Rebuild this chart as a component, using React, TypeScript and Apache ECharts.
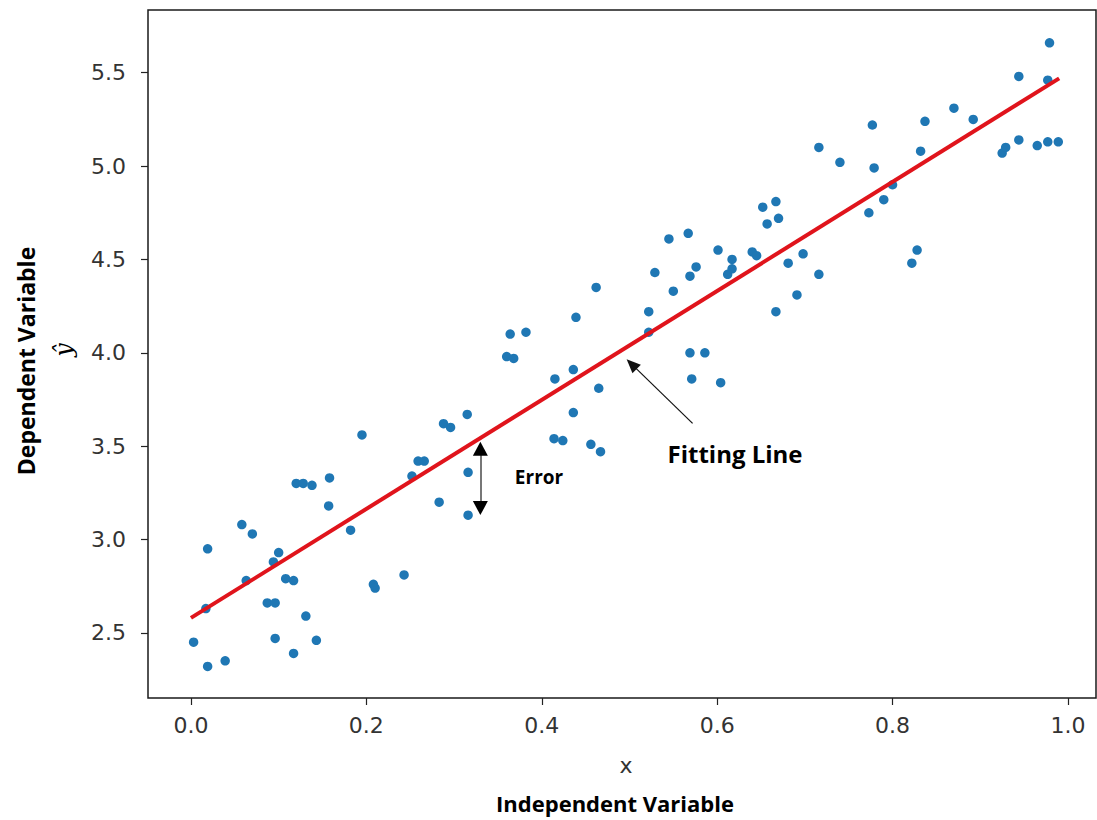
import React, { useEffect, useRef } from "react";
import * as echarts from "echarts";

// Scatter observations (x, y)
const pointX = [
  0.003, 0.019, 0.039, 0.017, 0.019, 0.058, 0.07, 0.063, 0.094, 0.1,
  0.087, 0.096, 0.096, 0.108, 0.117, 0.117, 0.131, 0.143, 0.12, 0.128,
  0.138, 0.158, 0.157, 0.182, 0.195, 0.208, 0.21, 0.243, 0.252, 0.259,
  0.266, 0.283, 0.288, 0.296, 0.315, 0.316, 0.316, 0.36, 0.368, 0.364,
  0.382, 0.414, 0.424, 0.415, 0.436, 0.436, 0.439, 0.456, 0.467, 0.465,
  0.462, 0.522, 0.522, 0.529, 0.545, 0.55, 0.567, 0.569, 0.569, 0.571,
  0.576, 0.586, 0.601, 0.604, 0.612, 0.617, 0.617, 0.64, 0.645, 0.652,
  0.667, 0.657, 0.67, 0.667, 0.681, 0.691, 0.698, 0.716, 0.716, 0.74,
  0.773, 0.777, 0.779, 0.79, 0.8, 0.822, 0.828, 0.832, 0.837, 0.87,
  0.892, 0.925, 0.929, 0.944, 0.944, 0.965, 0.977, 0.989, 0.977, 0.979,
];
const pointY = [
  2.45, 2.32, 2.35, 2.63, 2.95, 3.08, 3.03, 2.78, 2.88, 2.93,
  2.66, 2.66, 2.47, 2.79, 2.78, 2.39, 2.59, 2.46, 3.3, 3.3,
  3.29, 3.33, 3.18, 3.05, 3.56, 2.76, 2.74, 2.81, 3.34, 3.42,
  3.42, 3.2, 3.62, 3.6, 3.67, 3.36, 3.13, 3.98, 3.97, 4.1,
  4.11, 3.54, 3.53, 3.86, 3.91, 3.68, 4.19, 3.51, 3.47, 3.81,
  4.35, 4.11, 4.22, 4.43, 4.61, 4.33, 4.64, 4.41, 4.0, 3.86,
  4.46, 4.0, 4.55, 3.84, 4.42, 4.45, 4.5, 4.54, 4.52, 4.78,
  4.81, 4.69, 4.72, 4.22, 4.48, 4.31, 4.53, 5.1, 4.42, 5.02,
  4.75, 5.22, 4.99, 4.82, 4.9, 4.48, 4.55, 5.08, 5.24, 5.31,
  5.25, 5.07, 5.1, 5.14, 5.48, 5.11, 5.13, 5.13, 5.46, 5.66,
];

// Fitted regression line endpoints
const fitX = [0.0, 0.99];
const fitY = [2.58, 5.47];

// Axis ticks
const xTicks = [0, 0.2, 0.4, 0.6, 0.8, 1.0];
const yTicks = [2.5, 3.0, 3.5, 4.0, 4.5, 5.0, 5.5];

// Annotation arrows (data coordinates)
const errorArrowFrom = [0.33, 3.486];
const errorArrowTo = [0.33, 3.168];
const fitArrowFrom = [0.572, 3.622];
const fitArrowTo = [0.5025, 3.939];

export default function App() {
  const ref = useRef<HTMLDivElement>(null);

  useEffect(() => {
    if (!ref.current) return;
    const chart = echarts.init(ref.current, null, { renderer: "svg" });
    const tickFont = {
      fontFamily: "DejaVu Sans",
      fontSize: 22,
      color: "#333",
    };
    chart.setOption({
      animation: false,
      backgroundColor: "#fff",
      grid: {
        left: 148,
        top: 10,
        right: 1,
        bottom: 122,
        show: true,
        borderColor: "#1a1a1a",
        borderWidth: 1.5,
        backgroundColor: "#fff",
        containLabel: false,
        outerBoundsMode: "none",
      },
      xAxis: {
        type: "value",
        min: -0.049,
        max: 1.032,
        splitLine: { show: false },
        axisLine: { show: false, onZero: false },
        axisTick: {
          show: true,
          customValues: xTicks,
          length: 7,
          lineStyle: { color: "#222", width: 1.2 },
        },
        axisLabel: {
          ...tickFont,
          customValues: xTicks,
          margin: 16,
          formatter: (v: number) => v.toFixed(1),
        },
      },
      yAxis: {
        type: "value",
        min: 2.151,
        max: 5.836,
        splitLine: { show: false },
        axisLine: { show: false, onZero: false },
        axisTick: {
          show: true,
          customValues: yTicks,
          length: 7,
          lineStyle: { color: "#222", width: 1.2 },
        },
        axisLabel: {
          ...tickFont,
          customValues: yTicks,
          margin: 22,
          formatter: (v: number) => v.toFixed(1),
        },
      },
      series: [
        {
          type: "scatter",
          data: pointX.map((x, i) => [x, pointY[i]]),
          symbolSize: 9.5,
          itemStyle: { color: "#1f77b4", opacity: 1 },
          z: 2,
          markLine: {
            silent: true,
            animation: false,
            label: { show: false },
            emphasis: { disabled: true },
            data: [
              [
                {
                  coord: errorArrowFrom,
                  symbol: "none",
                  lineStyle: { color: "#555", width: 1.6, type: "solid" },
                },
                { coord: errorArrowTo, symbol: "none" },
              ],
              [
                {
                  coord: errorArrowFrom,
                  symbol: "triangle",
                  symbolSize: [15, 14],
                  lineStyle: { color: "#000", width: 0, type: "solid" },
                },
                { coord: errorArrowTo, symbol: "triangle", symbolSize: [15, 14] },
              ],
              [
                {
                  coord: fitArrowFrom,
                  symbol: "none",
                  lineStyle: { color: "#111", width: 1.2, type: "solid" },
                },
                { coord: fitArrowTo, symbol: "triangle", symbolSize: [12, 14] },
              ],
            ],
            itemStyle: { color: "#000" },
          },
        },
        {
          type: "line",
          data: fitX.map((x, i) => [x, fitY[i]]),
          symbol: "none",
          lineStyle: { color: "#e0141c", width: 4 },
          itemStyle: { color: "#e0141c" },
          z: 3,
        },
      ],
      graphic: [
        {
          type: "text",
          x: 26,
          y: 361,
          rotation: Math.PI / 2,
          style: {
            text: "Dependent Variable",
            fontFamily: "Open Sans",
            fontWeight: "bold",
            fontSize: 23,
            fill: "#000",
            align: "center",
            verticalAlign: "middle",
          },
        },
        {
          type: "text",
          x: 64,
          y: 350,
          rotation: Math.PI / 2,
          style: {
            text: "ŷ",
            fontFamily: "DejaVu Serif",
            fontStyle: "italic",
            fontSize: 24,
            fill: "#000",
            align: "center",
            verticalAlign: "middle",
          },
        },
        {
          type: "text",
          x: 626,
          y: 765,
          style: {
            text: "x",
            fontFamily: "DejaVu Sans",
            fontSize: 22,
            fill: "#333",
            align: "center",
            verticalAlign: "middle",
          },
        },
        {
          type: "text",
          x: 615,
          y: 803,
          style: {
            text: "Independent Variable",
            fontFamily: "Open Sans",
            fontWeight: "bold",
            fontSize: 22,
            fill: "#000",
            align: "center",
            verticalAlign: "middle",
          },
        },
        {
          type: "text",
          x: 539,
          y: 477,
          style: {
            text: "Error",
            fontFamily: "Open Sans",
            fontWeight: "bold",
            fontSize: 19,
            fill: "#000",
            align: "center",
            verticalAlign: "middle",
          },
        },
        {
          type: "text",
          x: 735,
          y: 453,
          style: {
            text: "Fitting Line",
            fontFamily: "Open Sans",
            fontWeight: "bold",
            fontSize: 24,
            fill: "#000",
            align: "center",
            verticalAlign: "middle",
          },
        },
      ],
    });
    return () => chart.dispose();
  }, []);

  return (
    <div
      ref={ref}
      style={{ position: "fixed", left: 0, top: 0, width: 1097, height: 820 }}
    />
  );
}
